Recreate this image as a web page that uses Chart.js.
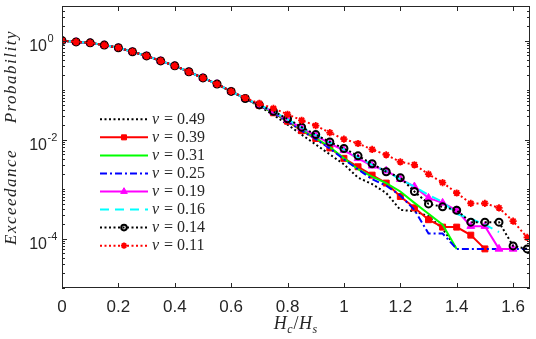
<!DOCTYPE html>
<html>
<head>
<meta charset="utf-8">
<script src="https://cdn.jsdelivr.net/npm/chart.js@4/dist/chart.umd.min.js"></script>
<style>
  html, body { margin: 0; padding: 0; background: #fff; }
</style>
</head>
<body>
<canvas id="myChart" width="536" height="339"></canvas>
<script>
// x values (Hc/Hs)
const hcHs = [0, 0.05, 0.1, 0.15, 0.2, 0.25, 0.3, 0.35, 0.4, 0.45, 0.5, 0.55, 0.6, 0.65,
  0.7, 0.75, 0.8, 0.85, 0.9, 0.95, 1, 1.05, 1.1, 1.15, 1.2, 1.25, 1.3, 1.35, 1.4, 1.45, 1.5, 1.55, 1.6, 1.65];

// exceedance probability, one list per nu
const p049 = [1, 0.94, 0.90, 0.81, 0.716, 0.596, 0.49, 0.389, 0.309, 0.234, 0.176, 0.132, 0.094, 0.0676,
  0.0468, 0.0316, 0.02, 0.0126, 0.00794, 0.00501, 0.00316, 0.0017, 0.00126, 0.000832, 0.00038, 0.000355,
  0.000282, 0.000158, 0.0000617];
const p039 = [1, 0.94, 0.90, 0.81, 0.716, 0.596, 0.49, 0.389, 0.309, 0.234, 0.176, 0.132, 0.094, 0.0676,
  0.049, 0.0347, 0.0234, 0.0151, 0.0105, 0.00676, 0.00417, 0.00282, 0.00191, 0.00132, 0.000708, 0.000417,
  0.00024, 0.00017, 0.00017, 0.000117, 0.0000617];
const p031 = [1, 0.94, 0.90, 0.81, 0.716, 0.596, 0.49, 0.389, 0.309, 0.234, 0.176, 0.132, 0.094, 0.0676,
  0.049, 0.0347, 0.024, 0.0158, 0.0107, 0.00708, 0.00417, 0.00251, 0.00178, 0.00132, 0.000891, 0.000525,
  0.000316, 0.000191, 0.0000617];
const p025 = [1, 0.94, 0.90, 0.81, 0.716, 0.596, 0.49, 0.389, 0.309, 0.234, 0.176, 0.132, 0.094, 0.0676,
  0.049, 0.0347, 0.0234, 0.0151, 0.0102, 0.00661, 0.00398, 0.00251, 0.00158, 0.00117, 0.000741, 0.00038,
  0.000126, 0.000126, 0.0000617, 0.0000617, 0.0000617, 0.0000617, 0.0000617, 0.0000617];
const p019 = [1, 0.94, 0.90, 0.81, 0.716, 0.596, 0.49, 0.389, 0.309, 0.234, 0.176, 0.132, 0.094, 0.0676,
  0.0501, 0.0363, 0.0251, 0.017, 0.012, 0.00832, 0.00603, 0.00417, 0.00295, 0.00234, 0.00158, 0.00112,
  0.000661, 0.000525, 0.000372, 0.000178, 0.000178, 0.0000617, 0.0000617];
const p016 = [1, 0.94, 0.90, 0.81, 0.716, 0.596, 0.49, 0.389, 0.309, 0.234, 0.176, 0.132, 0.094, 0.0676,
  0.0501, 0.0372, 0.0257, 0.0174, 0.0123, 0.00871, 0.00631, 0.00437, 0.00309, 0.00229, 0.00158, 0.00112,
  0.000759, 0.00055, 0.000316, 0.000251, 0.000191, 0.000135];
const p014 = [1, 0.94, 0.90, 0.81, 0.716, 0.596, 0.49, 0.389, 0.309, 0.234, 0.176, 0.132, 0.094, 0.0676,
  0.0501, 0.0372, 0.0263, 0.0178, 0.0126, 0.00891, 0.00661, 0.00468, 0.00324, 0.00224, 0.0017, 0.000891,
  0.000501, 0.000437, 0.000372, 0.000214, 0.000214, 0.000214, 0.0000708, 0.0000617];
const p011 = [1, 0.94, 0.90, 0.81, 0.716, 0.596, 0.49, 0.389, 0.309, 0.234, 0.176, 0.132, 0.094, 0.0692,
  0.0537, 0.0427, 0.0324, 0.0245, 0.0191, 0.0138, 0.0102, 0.00832, 0.00631, 0.0049, 0.00355, 0.00309,
  0.002, 0.00135, 0.000832, 0.000513, 0.000513, 0.000417, 0.000224, 0.000105];

const nuLabels = ['0.49', '0.39', '0.31', '0.25', '0.19', '0.16', '0.14', '0.11'];

// tick labels
const xTickVals = [0, 0.2, 0.4, 0.6, 0.8, 1, 1.2, 1.4, 1.6];
const xTickText = ['0', '0.2', '0.4', '0.6', '0.8', '1', '1.2', '1.4', '1.6'];
const yTickExps = [0, -2, -4];

function toPoints(vals) {
  return vals.map((v, i) => ({ x: hcHs[i], y: v }));
}

const styles = [
  { data: p049, color: '#000000', dash: [2, 2.5], pointStyle: 'circle', radius: 0 },
  { data: p039, color: '#ff0000', dash: [], pointStyle: 'rect', radius: 4.2, fill: '#ff0000' },
  { data: p031, color: '#00ff00', dash: [], pointStyle: 'circle', radius: 0 },
  { data: p025, color: '#0000ff', dash: [7, 3, 2, 3], pointStyle: 'circle', radius: 0 },
  { data: p019, color: '#ff00ff', dash: [], pointStyle: 'triangle', radius: 4.5, fill: '#ff00ff' },
  { data: p016, color: '#00ffff', dash: [9, 6], pointStyle: 'circle', radius: 0 },
  { data: p014, color: '#000000', dash: [2, 2.5], pointStyle: 'circle', radius: 3.5, fill: 'rgba(0,0,0,0)' },
  { data: p011, color: '#ff0000', dash: [2, 2.5], pointStyle: 'star', radius: 3.6, fill: '#ff0000' }
];

const datasets = styles.map((s, i) => ({
  label: 'nu = ' + nuLabels[i],
  data: toPoints(s.data),
  borderColor: s.color,
  backgroundColor: s.color,
  borderWidth: 2,
  borderDash: s.dash,
  pointStyle: s.pointStyle,
  pointRadius: s.radius,
  pointBackgroundColor: s.fill || s.color,
  pointBorderColor: s.color,
  pointBorderWidth: s.pointStyle === 'circle' ? 2 : (s.pointStyle === 'star' ? 1.8 : 1),
  fill: false,
  tension: 0,
  order: styles.length - i // last series on top, like the original
}));

// frame, ticks, labels, titles and legend drawn the matlab way
const matlabFrame = {
  id: 'matlabFrame',
  afterDraw(chart) {
    const ctx = chart.ctx;
    const a = chart.chartArea;
    const xs = chart.scales.x, ys = chart.scales.y;
    const ink = '#262626';
    ctx.save();
    ctx.setLineDash([]);
    ctx.strokeStyle = ink;
    ctx.lineWidth = 1;
    ctx.strokeRect(a.left + 0.5, a.top + 0.5, a.right - a.left - 1, a.bottom - a.top - 1);

    ctx.beginPath();
    xTickVals.forEach(v => {
      const px = Math.round(xs.getPixelForValue(v)) + 0.5;
      ctx.moveTo(px, a.bottom); ctx.lineTo(px, a.bottom - 5);
      ctx.moveTo(px, a.top); ctx.lineTo(px, a.top + 5);
    });
    for (let e = -5; e <= 0; e++) {
      for (let m = 1; m <= 9; m++) {
        const v = m * Math.pow(10, e);
        if (v < ys.min || v > ys.max) continue;
        const py = Math.round(ys.getPixelForValue(v)) + 0.5;
        const len = (m === 1 && e % 2 === 0) ? 5 : 3;
        ctx.moveTo(a.left, py); ctx.lineTo(a.left + len, py);
        ctx.moveTo(a.right, py); ctx.lineTo(a.right - len, py);
      }
    }
    ctx.stroke();

    // x tick labels
    ctx.fillStyle = ink;
    ctx.font = '17px "Liberation Sans", Arial, sans-serif';
    ctx.textAlign = 'center';
    ctx.textBaseline = 'middle';
    xTickVals.forEach((v, i) => {
      ctx.fillText(xTickText[i], xs.getPixelForValue(v), a.bottom + 19);
    });

    // y tick labels 10^n
    ctx.textBaseline = 'alphabetic';
    yTickExps.forEach(e => {
      const py = ys.getPixelForValue(Math.pow(10, e));
      ctx.font = '16px "Liberation Sans", Arial, sans-serif';
      ctx.textAlign = 'right';
      ctx.fillText('10', 47, py + 10.5);
      ctx.font = '11px "Liberation Sans", Arial, sans-serif';
      ctx.textAlign = 'left';
      ctx.fillText(String(e), 47.5, py + 1.5);
    });

    // x title Hc/Hs
    const cx = (a.left + a.right) / 2;
    const big = 'italic 18px "Liberation Serif", "Times New Roman", serif';
    const sub = 'italic 12px "Liberation Serif", "Times New Roman", serif';
    const up = '18px "Liberation Serif", "Times New Roman", serif';
    const parts = [
      { t: 'H', f: big, dy: 0 }, { t: 'c', f: sub, dy: 4 },
      { t: '/', f: up, dy: 0 }, { t: 'H', f: big, dy: 0 }, { t: 's', f: sub, dy: 4 }
    ];
    let total = 0;
    parts.forEach(p => { ctx.font = p.f; p.w = ctx.measureText(p.t).width + (p.f === sub ? 1 : 0.5); total += p.w; });
    let px = cx - total / 2;
    ctx.textAlign = 'left';
    parts.forEach(p => { ctx.font = p.f; ctx.fillText(p.t, px, 329 + p.dy); px += p.w; });

    // y title
    ctx.font = 'italic 17px "Liberation Serif", "Times New Roman", serif';
    ctx.letterSpacing = '1.5px';
    ctx.save();
    ctx.translate(16, 245);
    ctx.rotate(-Math.PI / 2);
    ctx.textAlign = 'left';
    ctx.fillText('Exceedance', 0, 0);
    ctx.restore();
    ctx.save();
    ctx.translate(16, 30);
    ctx.rotate(-Math.PI / 2);
    ctx.textAlign = 'right';
    ctx.fillText('Probability', 0, 0);
    ctx.restore();
    ctx.letterSpacing = '0px';

    // legend inside the axes
    const rowY0 = 119.3, rowStep = 18.05;
    chart.data.datasets.forEach((ds, i) => {
      const y = rowY0 + i * rowStep;
      ctx.strokeStyle = ds.borderColor;
      ctx.lineWidth = ds.borderWidth;
      ctx.setLineDash(ds.borderDash);
      ctx.beginPath();
      ctx.moveTo(100, y); ctx.lineTo(148, y);
      ctx.stroke();
      ctx.setLineDash([]);
      if (ds.pointRadius > 0) {
        ctx.fillStyle = ds.pointBackgroundColor;
        ctx.strokeStyle = ds.pointBorderColor;
        ctx.lineWidth = ds.pointBorderWidth;
        Chart.helpers.drawPoint(ctx, {
          pointStyle: ds.pointStyle,
          radius: ds.pointStyle === 'circle' ? 2.8 : ds.pointRadius * 0.85,
          rotation: 0,
          borderWidth: ds.pointBorderWidth
        }, 124, y);
      }
      ctx.fillStyle = ink;
      ctx.textBaseline = 'middle';
      ctx.textAlign = 'left';
      ctx.font = 'italic 16px "Liberation Serif", "Times New Roman", serif';
      ctx.fillText('\u03bd', 152, y);
      ctx.font = '16px "Liberation Serif", "Times New Roman", serif';
      ctx.fillText('= ' + nuLabels[i], 164, y);
    });
    ctx.restore();
  }
};

const config = {
  type: 'line',
  data: { datasets: datasets },
  options: {
    responsive: false,
    animation: false,
    layout: { padding: { left: 62, right: 2, top: 3, bottom: 51 } },
    plugins: {
      legend: { display: false },
      tooltip: { enabled: false }
    },
    scales: {
      x: { type: 'linear', min: 0, max: 1.66, display: false },
      y: { type: 'logarithmic', min: 1e-5, max: 5, display: false }
    }
  },
  plugins: [matlabFrame]
};

const ctx = document.getElementById('myChart').getContext('2d');
const myChart = new Chart(ctx, config);
</script>
</body>
</html>
